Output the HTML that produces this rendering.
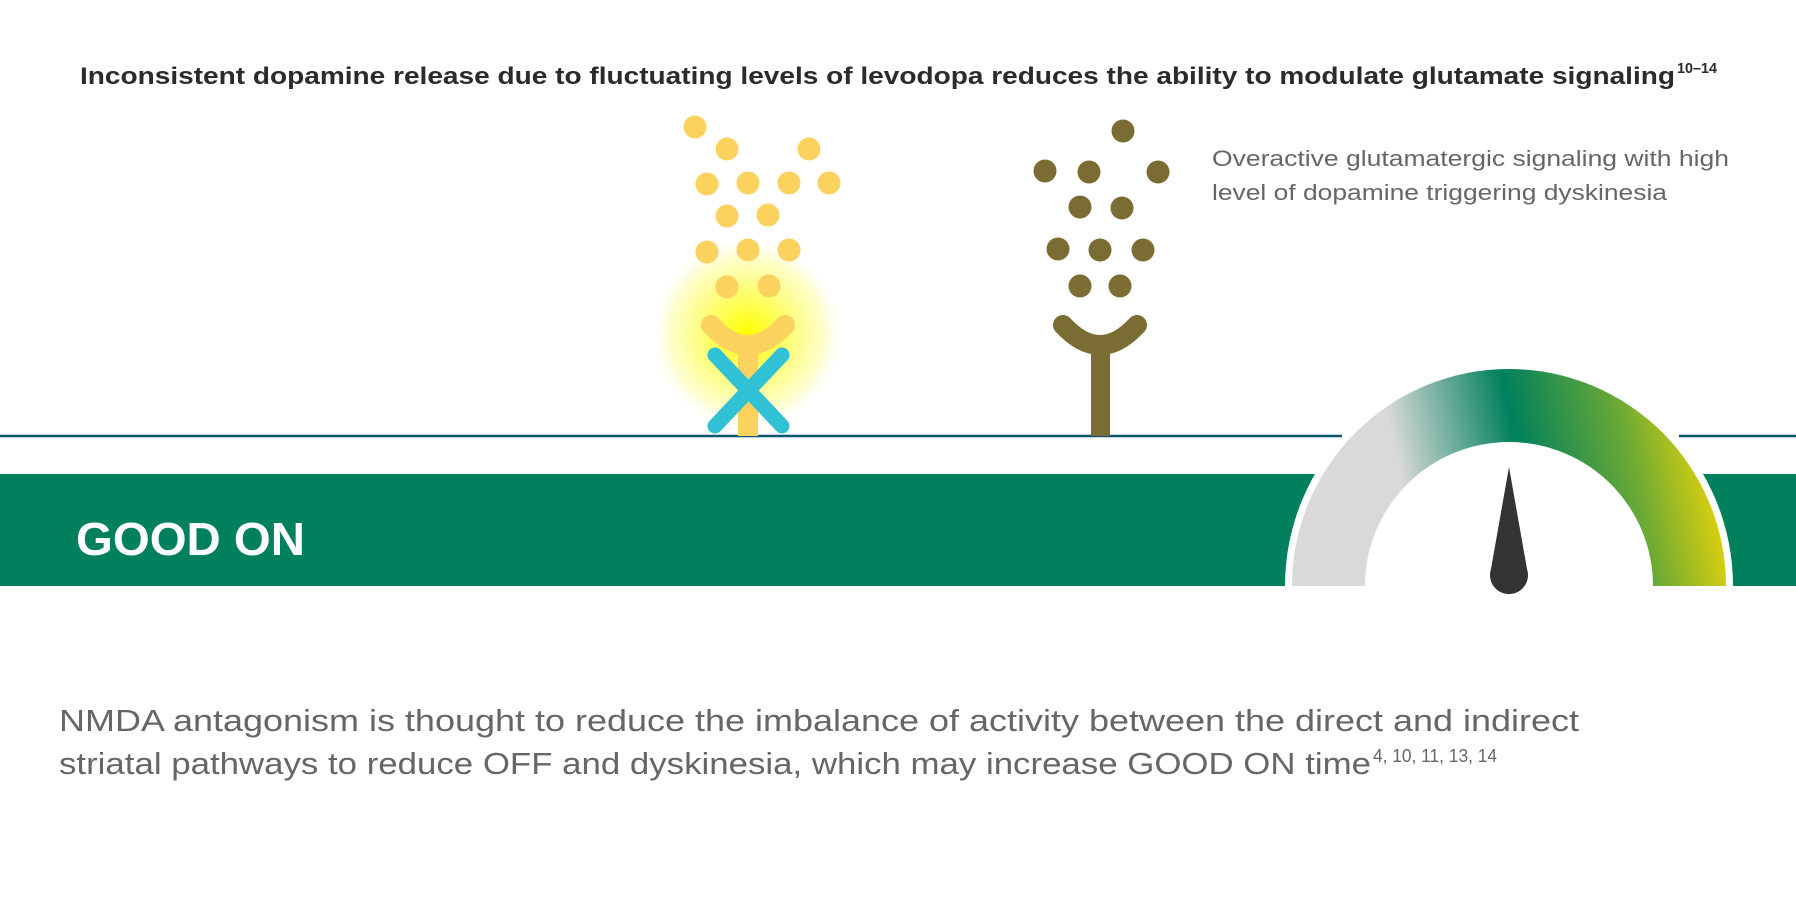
<!DOCTYPE html>
<html><head><meta charset="utf-8"><style>
html,body{margin:0;padding:0;background:#fff;}
svg{display:block;}
text{font-family:"Liberation Sans",sans-serif;}
</style></head><body>
<svg width="1796" height="908" viewBox="0 0 1796 908" xmlns="http://www.w3.org/2000/svg">
<defs>
<radialGradient id="glow" cx="0.5" cy="0.5" r="0.5">
<stop offset="0" stop-color="#ffff00"/>
<stop offset="0.5" stop-color="#fdfd85"/>
<stop offset="0.8" stop-color="#fefed0"/>
<stop offset="1" stop-color="#ffffff" stop-opacity="0"/>
</radialGradient>
<linearGradient id="gg" x1="1300" y1="560" x2="1720" y2="470" gradientUnits="userSpaceOnUse">
<stop offset="0" stop-color="#d9d9d9"/>
<stop offset="0.27" stop-color="#d9d9d9"/>
<stop offset="0.55" stop-color="#00805c"/>
<stop offset="0.8" stop-color="#6aa935"/>
<stop offset="1" stop-color="#ecd508"/>
</linearGradient>
</defs>

<text x="80" y="84" font-size="24" font-weight="bold" fill="#2b2b2b" textLength="1595" lengthAdjust="spacingAndGlyphs">Inconsistent dopamine release due to fluctuating levels of levodopa reduces the ability to modulate glutamate signaling</text>
<text x="1677" y="73" font-size="15" font-weight="bold" fill="#2b2b2b" textLength="40" lengthAdjust="spacingAndGlyphs">10–14</text>

<text x="1212" y="166" font-size="22" fill="#666" textLength="517" lengthAdjust="spacingAndGlyphs">Overactive glutamatergic signaling with high</text>
<text x="1212" y="200" font-size="22" fill="#666" textLength="455" lengthAdjust="spacingAndGlyphs">level of dopamine triggering dyskinesia</text>

<line x1="0" y1="436" x2="1342" y2="436" stroke="#0d5570" stroke-width="2.5"/>
<line x1="1679" y1="436" x2="1796" y2="436" stroke="#0d5570" stroke-width="2.5"/>

<ellipse cx="747" cy="334" rx="98" ry="98" fill="url(#glow)"/>

<g fill="#fbd25e">
<circle cx="695" cy="127" r="11.5"/><circle cx="727" cy="149" r="11.5"/><circle cx="809" cy="149" r="11.5"/>
<circle cx="707" cy="184" r="11.5"/><circle cx="748" cy="183" r="11.5"/><circle cx="789" cy="183" r="11.5"/><circle cx="829" cy="183" r="11.5"/>
<circle cx="727" cy="216" r="11.5"/><circle cx="768" cy="215" r="11.5"/>
<circle cx="707" cy="252" r="11.5"/><circle cx="748" cy="250" r="11.5"/><circle cx="789" cy="250" r="11.5"/>
<circle cx="727" cy="287" r="11.5"/><circle cx="769" cy="286" r="11.5"/>
</g>
<path d="M711 325 Q748 365 785 325" fill="none" stroke="#fbd25e" stroke-width="20" stroke-linecap="round"/>
<rect x="738" y="345" width="20" height="91" fill="#fbd25e"/>
<g stroke="#30c1d4" stroke-width="15" stroke-linecap="round">
<line x1="715" y1="355" x2="782" y2="426"/>
<line x1="782" y1="355" x2="715" y2="426"/>
</g>

<g fill="#7a6c32">
<circle cx="1123" cy="131" r="11.5"/>
<circle cx="1045" cy="171" r="11.5"/><circle cx="1089" cy="172" r="11.5"/><circle cx="1158" cy="172" r="11.5"/>
<circle cx="1080" cy="207" r="11.5"/><circle cx="1122" cy="208" r="11.5"/>
<circle cx="1058" cy="249" r="11.5"/><circle cx="1100" cy="250" r="11.5"/><circle cx="1143" cy="250" r="11.5"/>
<circle cx="1080" cy="286" r="11.5"/><circle cx="1120" cy="286" r="11.5"/>
</g>
<path d="M1063 325 Q1100 365 1137 325" fill="none" stroke="#7a6c32" stroke-width="20" stroke-linecap="round"/>
<rect x="1091" y="345" width="19" height="91" fill="#7a6c32"/>

<rect x="0" y="474" width="1796" height="112" fill="#00805c"/>
<text x="76" y="555" font-size="46" font-weight="bold" fill="#fff" textLength="229" lengthAdjust="spacingAndGlyphs">GOOD ON</text>

<path d="M1285 586 A224 224 0 0 1 1733 586 Z" fill="#fff"/>
<path d="M1292 586 A217 217 0 0 1 1726 586 L1653 586 A144 144 0 0 0 1365 586 Z" fill="url(#gg)"/>
<path d="M1509 467 L1527 569 A19 19 0 1 1 1491 569 Z" fill="#333"/>

<text x="59" y="731" font-size="31" fill="#666" textLength="1520" lengthAdjust="spacingAndGlyphs">NMDA antagonism is thought to reduce the imbalance of activity between the direct and indirect</text>
<text x="59" y="774" font-size="31" fill="#666" textLength="1312" lengthAdjust="spacingAndGlyphs">striatal pathways to reduce OFF and dyskinesia, which may increase GOOD ON time</text>
<text x="1373" y="762" font-size="18" fill="#666" textLength="124" lengthAdjust="spacingAndGlyphs">4, 10, 11, 13, 14</text>
</svg>
</body></html>
